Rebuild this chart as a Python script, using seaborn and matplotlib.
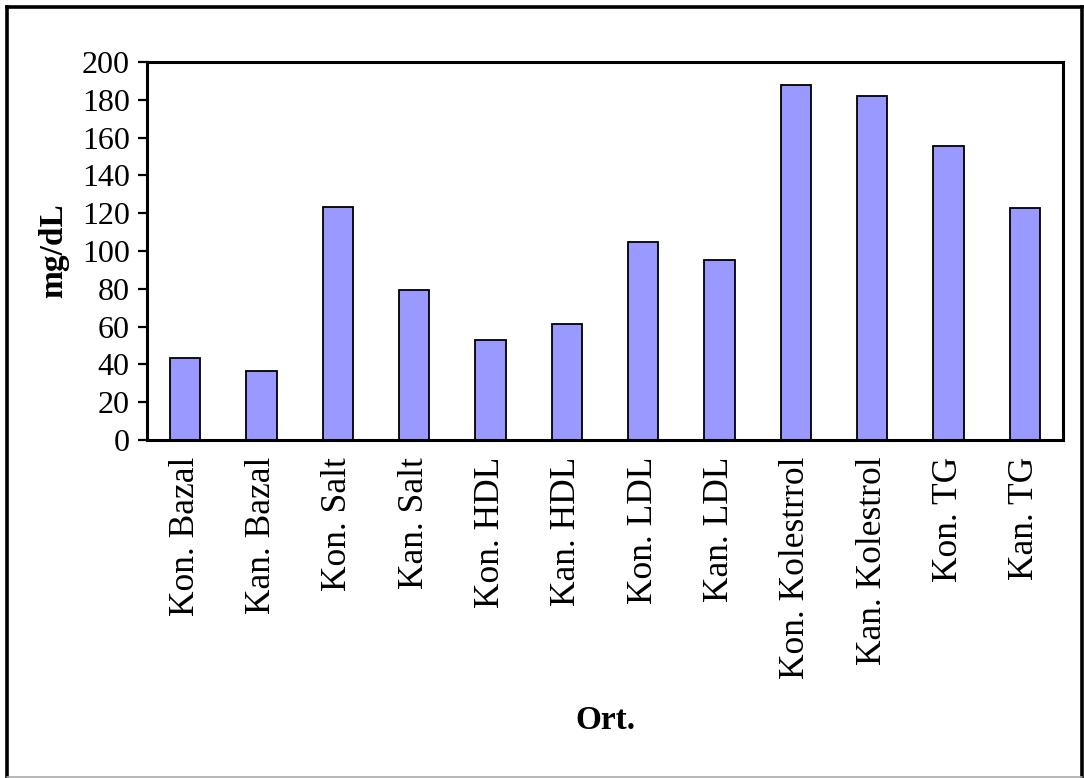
import matplotlib
matplotlib.use("Agg")
import matplotlib.pyplot as plt
from matplotlib.lines import Line2D
import seaborn as sns
import pandas as pd

# Group means (mg/dL)
categories = [
    "Kon. Bazal", "Kan. Bazal", "Kon. Salt", "Kan. Salt",
    "Kon. HDL", "Kan. HDL", "Kon. LDL", "Kan. LDL",
    "Kon. Kolestrrol", "Kan. Kolestrol", "Kon. TG", "Kan. TG",
]
values = [43.5, 36.5, 123.5, 79.5, 53.0, 61.5, 104.5, 95.0, 188.0, 182.0, 155.5, 122.5]
y_ticks = [0, 20, 40, 60, 80, 100, 120, 140, 160, 180, 200]

df = pd.DataFrame({"grup": categories, "deger": values})

sns.set_style("white")
plt.rcParams["font.family"] = ["Liberation Serif", "DejaVu Serif"]
plt.rcParams["text.color"] = "black"
plt.rcParams["axes.labelcolor"] = "black"
plt.rcParams["xtick.color"] = "black"
plt.rcParams["ytick.color"] = "black"

W, H = 1084, 778
fig = plt.figure(figsize=(W / 100, H / 100), dpi=100)
ax = fig.add_axes([147 / W, 1 - 440 / H, (1063 - 147) / W, (440 - 62) / H])

sns.barplot(data=df, x="grup", y="deger", ax=ax, color="#9999FF",
            edgecolor="black", linewidth=1.3, width=0.4, saturation=1)

ax.set_ylim(0, 200)
ax.set_xlim(-0.5, len(categories) - 0.5)
ax.set_yticks(y_ticks)
ax.set_yticklabels([str(t) for t in y_ticks], fontsize=23)
ax.set_xticks(range(len(categories)))
ax.set_xticklabels(categories, rotation=90, fontsize=25.5, va="top")

ax.tick_params(axis="y", direction="out", length=6.5, width=1.6, pad=6, left=True)
ax.tick_params(axis="x", length=0, pad=12)

for side in ["left", "right", "top", "bottom"]:
    ax.spines[side].set_visible(True)
    ax.spines[side].set_color("black")
    ax.spines[side].set_linewidth(2.2)

ax.set_xlabel("Ort.", fontsize=24, fontweight="bold", labelpad=0)
ax.xaxis.set_label_coords(0.5, 1 - (705 - 62) / (440 - 62))
ax.set_ylabel("mg/dL", fontsize=24, fontweight="bold")
ax.yaxis.set_label_coords(-(147 - 69) / (1063 - 147), 0.5)

# Outer chart frame
def px(x, y):
    return x / W, 1 - y / H

frame = [((6.5, 6.5), (1082, 6.5)), ((6.5, 6.5), (6.5, 777)), ((1082, 6.5), (1082, 777))]
for (a, b) in frame:
    (x0, y0), (x1, y1) = px(*a), px(*b)
    fig.add_artist(Line2D([x0, x1], [y0, y1], color="black", linewidth=2.6,
                          transform=fig.transFigure, solid_capstyle="projecting"))
x0, y0 = px(6.5, 777)
x1, y1 = px(1082, 777)
fig.add_artist(Line2D([x0, x1], [y0, y1], color="#aaaaaa", linewidth=1.2,
                      transform=fig.transFigure))

fig.savefig("out.png", dpi=100, facecolor="white")
